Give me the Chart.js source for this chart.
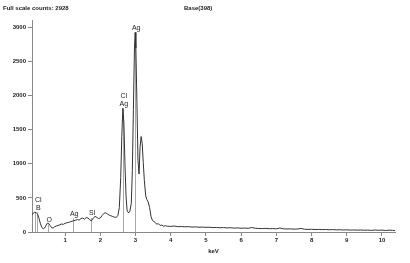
<!DOCTYPE html>
<html>
<head>
<meta charset="utf-8">
<script src="https://cdn.jsdelivr.net/npm/chart.js@4"></script>
<style>
  html, body { margin: 0; padding: 0; background: #fff; }
  #wrap { width: 410px; height: 263px; }
</style>
</head>
<body>
<div id="wrap"><canvas id="chart"></canvas></div>
<script>
const keV = [
  0.06, 0.10, 0.14, 0.18, 0.22, 0.26, 0.30, 0.34, 0.38, 0.42, 0.46, 0.50, 0.54, 0.58, 0.62, 0.66,
  0.70, 0.75, 0.80, 0.85, 0.90, 0.95, 1.00, 1.05, 1.10, 1.15, 1.20, 1.25, 1.30, 1.35, 1.40, 1.45,
  1.50, 1.55, 1.60, 1.65, 1.70, 1.75, 1.80, 1.85, 1.90, 1.95, 2.00, 2.05, 2.10, 2.15, 2.20, 2.25,
  2.30, 2.35, 2.40, 2.45, 2.50, 2.54, 2.58, 2.61, 2.64, 2.67, 2.70, 2.73, 2.76, 2.80, 2.84, 2.88,
  2.91, 2.94, 2.97, 2.99, 3.01, 3.04, 3.07, 3.10, 3.13, 3.16, 3.19, 3.22, 3.25, 3.29, 3.32, 3.36,
  3.40, 3.44, 3.48, 3.52, 3.56, 3.60, 3.65, 3.70, 3.75, 3.80, 3.85,
  3.9, 4.0, 4.1, 4.2, 4.3, 4.4, 4.5, 4.6, 4.7, 4.8, 4.9, 5.0, 5.1, 5.2, 5.3, 5.4, 5.5, 5.6, 5.7,
  5.8, 5.9, 6.0, 6.1, 6.2, 6.3, 6.4, 6.5, 6.6, 6.7, 6.8, 6.9, 7.0, 7.1, 7.2, 7.3, 7.4, 7.5, 7.6,
  7.7, 7.8, 7.9, 8.0, 8.1, 8.2, 8.3, 8.4, 8.5, 8.6, 8.7, 8.8, 8.9, 9.0, 9.1, 9.2, 9.3, 9.4, 9.5,
  9.6, 9.7, 9.8, 9.9, 10.0, 10.1, 10.2, 10.3, 10.37
];
const counts = [
  250, 280, 290, 282, 262, 200, 120, 70, 45, 60, 100, 130, 122, 90, 62, 58,
  75, 88, 95, 105, 118, 112, 128, 135, 142, 150, 158, 168, 172, 182, 176, 196,
  205, 188, 212, 206, 178, 165, 205, 228, 215, 198, 205, 242, 272, 282, 266, 248,
  238, 228, 218, 215, 240, 360, 800, 1400, 1815, 1600, 1000, 540, 320, 280, 305, 420,
  900, 1800, 2700, 2928, 2700, 1900, 1050, 850, 1250, 1400, 1300, 1020, 760, 530, 480, 440,
  360, 230, 170, 155, 140, 115, 122, 96, 102, 86, 92,
  85, 82, 88, 78, 80, 76, 79, 72, 75, 70, 72, 68, 70, 64, 67, 62, 65, 60, 63,
  57, 60, 55, 58, 54, 66, 55, 52, 50, 53, 48, 50, 46, 58, 47, 44, 46, 42, 44,
  52, 41, 38, 40, 36, 38, 35, 37, 33, 35, 31, 33, 30, 32, 28, 30, 27, 29, 26,
  28, 24, 30, 25, 28, 22, 27, 24, 20
];
const xTicks = [1, 2, 3, 4, 5, 6, 7, 8, 9, 10];
const yTicks = [0, 500, 1000, 1500, 2000, 2500, 3000];

// element marker lines (keV, top in counts, label lines)
const markerKeV = [0.14, 0.21, 0.52, 1.23, 1.74, 2.64, 2.99];
const markerTop = [290, 290, 110, 200, 205, 1815, 2928];
const markerLabels = [[], ['Cl', 'B'], ['O'], ['Ag'], ['Si'], ['Cl', 'Ag'], ['Ag']];

const headerLeft = 'Full scale counts: 2928';
const headerRight = 'Base(398)';

const markers = {
  id: 'markers',
  beforeDatasetsDraw(chart) {
    const { ctx, scales: { x, y } } = chart;
    ctx.save();
    ctx.strokeStyle = '#a8a8a8';
    ctx.lineWidth = 1;
    markerKeV.forEach((k, i) => {
      const px = Math.round(x.getPixelForValue(k)) + 0.5;
      ctx.beginPath();
      ctx.moveTo(px, y.getPixelForValue(0));
      ctx.lineTo(px, y.getPixelForValue(markerTop[i]));
      ctx.stroke();
    });
    ctx.restore();
  },
  afterDraw(chart) {
    const { ctx, scales: { x, y } } = chart;
    ctx.save();
    ctx.fillStyle = '#222';
    ctx.font = '7px "Liberation Sans", Arial, sans-serif';
    ctx.textAlign = 'center';
    ctx.textBaseline = 'bottom';
    markerKeV.forEach((k, i) => {
      const px = x.getPixelForValue(k);
      const top = y.getPixelForValue(markerTop[i]) - 1;
      const lines = markerLabels[i];
      lines.forEach((t, j) => {
        ctx.fillText(t, px + 1, top - (lines.length - 1 - j) * 8);
      });
    });
    ctx.font = 'bold 6px "Liberation Sans", Arial, sans-serif';
    ctx.textAlign = 'left';
    ctx.textBaseline = 'middle';
    ctx.fillText(headerLeft, 3, 8);
    ctx.fillText(headerRight, 184, 8);
    ctx.restore();
  }
};

new Chart(document.getElementById('chart'), {
  type: 'line',
  data: {
    datasets: [{
      data: keV.map((k, i) => ({ x: k, y: counts[i] })),
      borderColor: '#333',
      borderWidth: 1,
      pointRadius: 0,
      tension: 0,
      fill: false
    }]
  },
  options: {
    responsive: true,
    maintainAspectRatio: false,
    animation: false,
    layout: { padding: { top: 20, right: 15, left: 0, bottom: 0 } },
    plugins: { legend: { display: false }, tooltip: { enabled: false } },
    scales: {
      x: {
        type: 'linear',
        min: 0.06,
        max: 10.37,
        afterBuildTicks: s => { s.ticks = xTicks.map(v => ({ value: v })); },
        afterFit: s => { s.height = 31; },
        border: { color: '#888' },
        grid: { drawOnChartArea: false, tickLength: 4, color: '#888' },
        ticks: { color: '#222', padding: 1, font: { size: 6, weight: 'bold', family: '"Liberation Sans", Arial, sans-serif' } },
        title: { display: true, text: 'keV', color: '#222', padding: { top: 0, bottom: 8 }, font: { size: 6, weight: 'bold', family: '"Liberation Sans", Arial, sans-serif' } }
      },
      y: {
        min: 0,
        max: 3110,
        afterBuildTicks: s => { s.ticks = yTicks.map(v => ({ value: v })); },
        afterFit: s => { s.width = 32; },
        border: { color: '#888' },
        grid: { drawOnChartArea: false, tickLength: 4, color: '#888' },
        ticks: { color: '#222', padding: 2, callback: v => String(v), font: { size: 6, weight: 'bold', family: '"Liberation Sans", Arial, sans-serif' } }
      }
    }
  },
  plugins: [markers]
});
</script>
</body>
</html>
